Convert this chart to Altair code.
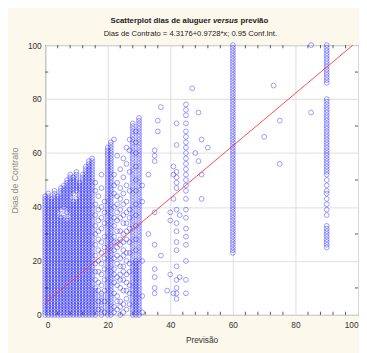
import altair as alt
import pandas as pd

# ---------------- data ----------------
# Each column: x value and the observed y values ("a-b" = every whole day from a to b).
dense_x = list(range(0, 31))
dense_y = [
    "0-44",
    "0-45",
    "0-43",
    "0-46",
    "0-44",
    "0-36 39-47",
    "0-37 40-48",
    "0-35 38-50",
    "0-52",
    "0-42 45-51",
    "0-43 46-53",
    "0-49",
    "0-52",
    "0-55",
    "0-57",
    "0-58",
    "0-10 13 16 19 22 26 30 33 37 41 46 49",
    "2 5 9 12 16 20 24 28 31 35 39 44",
    "0-8 11 15 19 23 27 32 36 40 47 52",
    "1 5 9 13 17 21 25 29 34 38 42",
    "0-62",
    "0-64",
    "1 3 8 12 15 17 21 24 27 29 33 36 40 45 48 52 65",
    "2 5 7 11 14 19 22 25 27 31 35 38 41 44 49 59",
    "0 3 5 10 13 15 18 21 26 28 31 36 39 43 47 54",
    "1 4 9 13 16 18 22 24 27 30 34 37 41 45 51 58",
    "2 6 9 12 15 20 23 28 31 34 38 42 48 56 62",
    "4 8 11 16 19 23 27 32 36 39 46 53 61 65",
    "0-71",
    "0-20 24 28 33 37 41 46 50 55 60 64 68",
    "0-73",
]

col60_y = "23-100"
col90_y = "86-100 52-80 50 48 46 45 43 41 39 37 25-33"

sparse_x = [31, 31, 31, 31, 31, 33, 33,
            35, 35, 35, 35, 35, 35, 35, 35, 35, 36, 36, 37, 37, 39,
            40, 40, 40, 41, 41, 41, 41,
            42, 42, 42, 42, 42, 42, 42, 42, 42, 42, 42, 42, 42, 42, 42, 42,
            43, 43,
            45, 45, 45, 45, 45, 45, 45, 45, 45, 45, 45, 45, 45, 45, 45, 45,
            45, 45, 45, 45, 45, 45, 45, 45, 45,
            47, 48, 49, 49, 50, 50, 50, 52,
            70, 73, 75, 75, 85, 85]
sparse_y = [1, 7, 20, 42, 48, 30, 52,
            8, 10, 14, 17, 26, 38, 57, 59, 61, 68, 72, 22, 77, 9,
            15, 35, 38, 8, 43, 52, 55,
            6, 8, 10, 13, 18, 24, 27, 31, 34, 39, 47, 49, 51, 53, 63, 71,
            14, 37,
            8, 13, 20, 26, 29, 32, 36, 39, 43, 46, 48, 50, 52, 54, 56, 58,
            60, 62, 64, 66, 68, 71, 74, 76, 78,
            84, 60, 57, 75, 43, 52, 65, 62,
            66, 85, 56, 72, 75, 100]

intercept = 4.3176
slope = 0.9728
line_x = [0, 98.36]

major_ticks = [0, 20, 40, 60, 80, 100]
minor_x = [4, 8, 12, 16, 24, 28, 32, 36, 44, 48, 52, 56, 64, 68, 72, 76, 84, 88, 92, 96]
minor_y = [10, 30, 50, 70, 90]

title_a = "Scatterplot dias de aluguer"
title_b = "versus"
title_c = "previão"
subtitle = "Dias de Contrato = 4.3176+0.9728*x; 0.95 Conf.Int."


def expand(spec):
    out = []
    for tok in spec.split():
        if "-" in tok:
            a, b = tok.split("-")
            out.extend(range(int(a), int(b) + 1))
        else:
            out.append(int(tok))
    return out


# ---------------- tables ----------------
rows = []
for xv, ys in zip(dense_x, dense_y):
    for yv in expand(ys):
        rows.append((xv, yv))
for yv in expand(col60_y):
    rows.append((60, yv))
for yv in expand(col90_y):
    rows.append((90, yv))
for xv, yv in zip(sparse_x, sparse_y):
    rows.append((xv, yv))
pts = pd.DataFrame(rows, columns=["x", "y"])

line_df = pd.DataFrame({"x": line_x, "y": [intercept + slope * v for v in line_x]})

top_ticks = pd.DataFrame({"x": minor_x, "y": 100, "y2": 98.8})
bot_ticks = pd.DataFrame({"x": minor_x, "y": 0, "y2": 1.2})
left_ticks = pd.DataFrame({"y": minor_y, "x": 0, "x2": 1.0})
right_ticks = pd.DataFrame({"y": minor_y, "x": 100, "x2": 99.0})

FONT = "Liberation Sans"

xscale = alt.Scale(domain=[0, 100], nice=False, zero=False)
yscale = alt.Scale(domain=[0, 100], nice=False, zero=False)

xaxis = alt.Axis(values=major_ticks, grid=True, gridColor="#dedede", gridWidth=1,
                 ticks=False, domain=False, labelFont=FONT, labelFontSize=8.5,
                 labelColor="#333333", labelPadding=6, title="Previsão",
                 titleFont=FONT, titleFontSize=8.5, titleFontWeight="normal",
                 titleColor="#333333", titlePadding=7)
yaxis = alt.Axis(values=major_ticks, grid=True, gridColor="#dedede", gridWidth=1,
                 ticks=False, domain=False, labelFont=FONT, labelFontSize=8.5,
                 labelColor="#333333", labelPadding=4, title="Dias de Contrato",
                 titleFont=FONT, titleFontSize=9, titleFontWeight="normal",
                 titleColor="#8a8a8a", titlePadding=8)

points = alt.Chart(pts).mark_point(
    shape="circle", filled=False, size=24, strokeWidth=0.7,
    color="#0000ff", opacity=0.55
).encode(
    x=alt.X("x:Q", scale=xscale, axis=xaxis),
    y=alt.Y("y:Q", scale=yscale, axis=yaxis),
)

reg = alt.Chart(line_df).mark_line(color="#ff2a2a", strokeWidth=1.0, opacity=0.85).encode(
    x=alt.X("x:Q", scale=xscale), y=alt.Y("y:Q", scale=yscale)
)


def vticks(df):
    return alt.Chart(df).mark_rule(color="#333333", strokeWidth=0.8).encode(
        x=alt.X("x:Q", scale=xscale), y=alt.Y("y:Q", scale=yscale), y2="y2:Q")


def hticks(df):
    return alt.Chart(df).mark_rule(color="#333333", strokeWidth=0.8).encode(
        y=alt.Y("y:Q", scale=yscale), x=alt.X("x:Q", scale=xscale), x2="x2:Q")


one = pd.DataFrame({"k": [0]})
t_a = alt.Chart(one).mark_text(font=FONT, fontSize=8, fontWeight="bold", align="left",
                               baseline="alphabetic", color="#222222").encode(
    x=alt.value(66.8), y=alt.value(-23), text=alt.value(title_a))
t_b = alt.Chart(one).mark_text(font=FONT, fontSize=8, fontWeight="bold", fontStyle="italic",
                               align="left", baseline="alphabetic", color="#222222").encode(
    x=alt.value(171.7), y=alt.value(-23), text=alt.value(title_b))
t_c = alt.Chart(one).mark_text(font=FONT, fontSize=8, fontWeight="bold", align="left",
                               baseline="alphabetic", color="#222222").encode(
    x=alt.value(199.7), y=alt.value(-23), text=alt.value(title_c))
t_s = alt.Chart(one).mark_text(font=FONT, fontSize=7.8, align="center",
                               baseline="alphabetic", color="#222222").encode(
    x=alt.value(148.5), y=alt.value(-9.5), text=alt.value(subtitle))

chart = alt.layer(
    points, reg,
    vticks(top_ticks), vticks(bot_ticks), hticks(left_ticks), hticks(right_ticks),
    t_a, t_b, t_c, t_s,
).properties(
    width=320, height=276,
    autosize=alt.AutoSizeParams(type="none"),
    padding={"left": 38, "top": 34, "right": 1, "bottom": 35},
    background="#fdf8ec",
).configure_view(
    fill="white", stroke="#333333", strokeWidth=1
)

chart.save("out.html", embed_options={"renderer": "svg", "actions": False})
